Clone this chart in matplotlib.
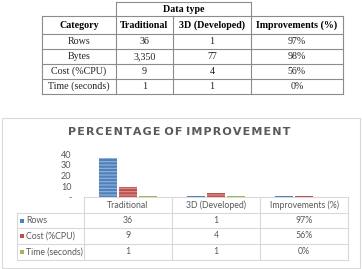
import matplotlib
matplotlib.use("Agg")
import matplotlib.pyplot as plt
import numpy as np

# --- data (top table) ---
top_cols = ["Category", "Traditional", "3D (Developed)", "Improvements (%)"]
top_rows = ["Rows", "Bytes", "Cost (%CPU)", "Time (seconds)"]
top_trad = ["36", "3,350", "9", "1"]
top_dev = ["1", "77", "4", "1"]
top_impr = ["97%", "98%", "56%", "0%"]

# --- data (chart) ---
categories = ["Traditional", "3D (Developed)", "Improvements (%)"]
series_names = ["Rows", "Cost (%CPU)", "Time (seconds)"]
series_values = {
    "Rows": [36, 1, 0.97],
    "Cost (%CPU)": [9, 4, 0.56],
    "Time (seconds)": [1, 1, 0.0],
}
series_labels = {
    "Rows": ["36", "1", "97%"],
    "Cost (%CPU)": ["9", "4", "56%"],
    "Time (seconds)": ["1", "1", "0%"],
}
colors = {"Rows": "#4F81BD", "Cost (%CPU)": "#C0504D", "Time (seconds)": "#9BBB59"}
yticks = [0, 10, 20, 30, 40]
ytick_labels = ["-", "10", "20", "30", "40"]

W, H = 362, 269
fig = plt.figure(figsize=(W / 100, H / 100), dpi=100)
fig.patch.set_facecolor("white")

# background axes in pixel coordinates for tables and frame
bg = fig.add_axes([0, 0, 1, 1])
bg.set_xlim(0, W)
bg.set_ylim(H, 0)
bg.axis("off")

# ---------- top table ----------
tl = "#8c8c8c"
serif = "Liberation Serif"
xs = [42, 116, 173, 251, 343]
ys = [16, 34, 49, 64, 79, 94]
bg.plot([116, 251], [2, 2], color=tl, lw=0.8)
for y in ys:
    bg.plot([42, 343], [y, y], color=tl, lw=0.8)
for x in xs:
    y0 = 2 if x in (116, 251) else 16
    bg.plot([x, x], [y0, 94], color=tl, lw=0.8)
bg.text((116 + 251) / 2, 9.5, "Data type", ha="center", va="center",
        family=serif, weight="bold", fontsize=7.2)
for i, c in enumerate(top_cols):
    bg.text((xs[i] + xs[i + 1]) / 2, 25.5, c, ha="center", va="center",
            family=serif, weight="bold", fontsize=7.2)
for r, name in enumerate(top_rows):
    yc = (ys[r + 1] + ys[r + 2]) / 2
    for i, v in enumerate([name, top_trad[r], top_dev[r], top_impr[r]]):
        bg.text((xs[i] + xs[i + 1]) / 2, yc, v, ha="center", va="center",
                family=serif, fontsize=7.2, color="#222222")

# ---------- chart frame ----------
bg.add_patch(plt.Rectangle((1.5, 117.5), 358.5, 150, fill=False,
                           edgecolor="#d9d9d9", lw=0.8))
title = "PERCENTAGE OF IMPROVEMENT"
spaced = " ".join("\u200a".join(w) for w in title.split(" "))
bg.text(179, 132, spaced, ha="center", va="center", family="DejaVu Sans",
        weight="bold", fontsize=8.0, color="#595959")

# ---------- chart data table ----------
gl = "#d9d9d9"
txt = "#595959"
sans = "Lato"
cx = [84, 172, 260, 348]
ry = [197, 213, 228, 244, 260]
bg.plot([84, 348], [197, 197], color=gl, lw=0.8)
for y in ry[1:]:
    bg.plot([16.5, 348], [y, y], color=gl, lw=0.8)
bg.plot([16.5, 16.5], [213, 260], color=gl, lw=0.8)
for x in cx:
    bg.plot([x, x], [197, 260], color=gl, lw=0.8)
for i, c in enumerate(categories):
    bg.text((cx[i] + cx[i + 1]) / 2, 205, c, ha="center", va="center",
            family=sans, fontsize=6.3, color=txt)
for r, s in enumerate(series_names):
    yc = (ry[r + 1] + ry[r + 2]) / 2
    bg.add_patch(plt.Rectangle((20, yc - 2), 4, 4, color=colors[s], lw=0))
    bg.text(26, yc, s, ha="left", va="center", family=sans, fontsize=6.3, color=txt)
    for i, v in enumerate(series_labels[s]):
        bg.text((cx[i] + cx[i + 1]) / 2, yc, v, ha="center", va="center",
                family=sans, fontsize=6.3, color=txt)

# ---------- bars ----------
plt.rcParams["hatch.color"] = (1, 1, 1, 0.4)
plt.rcParams["hatch.linewidth"] = 0.8
ax = fig.add_axes([84 / W, (H - 197) / H, 264 / W, 43 / H])
ax.set_facecolor("none")
x = np.arange(len(categories))
offsets = [-0.23, 0.0, 0.23]
for k, s in enumerate(series_names):
    ax.bar(x + offsets[k], series_values[s], width=0.2, color=colors[s],
           hatch="-----")
ax.set_xlim(-0.5, len(categories) - 0.5)
ax.set_ylim(0, 40)
ax.set_xticks([])
ax.set_yticks(yticks)
ax.set_yticklabels(ytick_labels, family=sans, fontsize=6.5, color=txt)
ax.tick_params(axis="y", length=0, pad=9)
for sp in ax.spines.values():
    sp.set_visible(False)

fig.savefig("out.png", dpi=100)
